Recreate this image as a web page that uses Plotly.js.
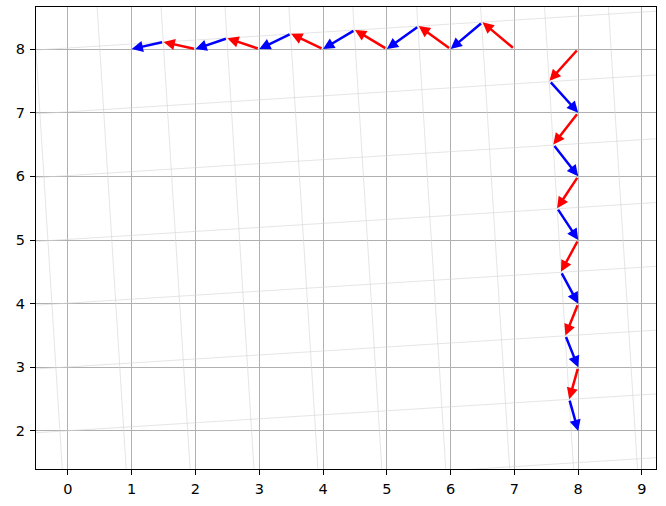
<!DOCTYPE html>
<html>
<head>
<meta charset="utf-8">
<script src="https://cdn.plot.ly/plotly-3.0.1.min.js"></script>
<style>html,body{margin:0;padding:0;background:#fff;}#chart{width:666px;height:506px;}</style>
</head>
<body>
<div id="chart"></div>
<script>
// Path along the top: troughs at y=8, peaks on the skewed line
var topX = [7, 6.5, 6, 5.5, 5, 4.5, 4, 3.5, 3, 2.5, 2, 1.5, 1];
var topY = [8, 8.42, 8, 8.36, 8, 8.30, 8, 8.24, 8, 8.17, 8, 8.11, 8];
// Path down the right side
var rightX = [8, 7.55, 8, 7.61, 8, 7.67, 8, 7.73, 8, 7.80, 8, 7.86, 8];
var rightY = [8, 7.5, 7, 6.5, 6, 5.5, 5, 4.5, 4, 3.5, 3, 2.5, 2];
// Segment colours alternate
var segColors = ['red', 'blue'];
// Skewed (rotated) background grid: angle in degrees and integer line indices
var gridAngleDeg = 3.59;
var gridIdx = [-1, 0, 1, 2, 3, 4, 5, 6, 7, 8, 9, 10, 11];
var xTicks = [0, 1, 2, 3, 4, 5, 6, 7, 8, 9];
var yTicks = [2, 3, 4, 5, 6, 7, 8];

var th = gridAngleDeg * Math.PI / 180;
var c = Math.cos(th), t = Math.tan(th);
var traces = [];
var gx = [], gy = [];
gridIdx.forEach(function (k) {
  // line v = k : y = k/cos + x*tan
  var xa = -2, xb = 11;
  gx.push(xa, xb, null);
  gy.push(k / c + xa * t, k / c + xb * t, null);
  // line u = k : x = k/cos - y*tan
  var ya = 0, yb = 10;
  gx.push(k / c - ya * t, k / c - yb * t, null);
  gy.push(ya, yb, null);
});
traces.push({
  x: gx, y: gy, mode: 'lines', type: 'scatter', hoverinfo: 'skip',
  line: {color: '#d4d4d4', width: 0.6}, showlegend: false
});

var ann = [];
function addPath(xs, ys) {
  for (var i = 0; i < xs.length - 1; i++) {
    ann.push({
      x: xs[i + 1], y: ys[i + 1], ax: xs[i], ay: ys[i],
      xref: 'x', yref: 'y', axref: 'x', ayref: 'y',
      text: '', showarrow: true, arrowhead: 2, arrowsize: 0.9,
      arrowwidth: 2.5, arrowcolor: segColors[i % 2], standoff: 0, startstandoff: 0
    });
  }
}
addPath(topX, topY);
addPath(rightX, rightY);

var axisCommon = {
  showgrid: true, gridcolor: '#b0b0b0', gridwidth: 1,
  zeroline: false, showline: true, linecolor: 'black', linewidth: 1, mirror: true,
  ticks: 'outside', ticklen: 5, tickwidth: 1, tickcolor: 'black',
  tickfont: {family: 'DejaVu Sans', size: 14.5, color: 'black'}
};
var layout = {
  width: 666, height: 506,
  margin: {l: 36, r: 10, t: 7, b: 37},
  paper_bgcolor: 'white', plot_bgcolor: 'white',
  showlegend: false,
  xaxis: Object.assign({}, axisCommon, {range: [-0.5, 9.22], tickvals: xTicks, ticktext: xTicks.map(String), ticklabelstandoff: 2}),
  yaxis: Object.assign({}, axisCommon, {range: [1.403, 8.66], tickvals: yTicks, ticktext: yTicks.map(String), ticklabelstandoff: 2}),
  annotations: ann
};
Plotly.newPlot('chart', traces, layout, {staticPlot: true, displayModeBar: false});
</script>
</body>
</html>
